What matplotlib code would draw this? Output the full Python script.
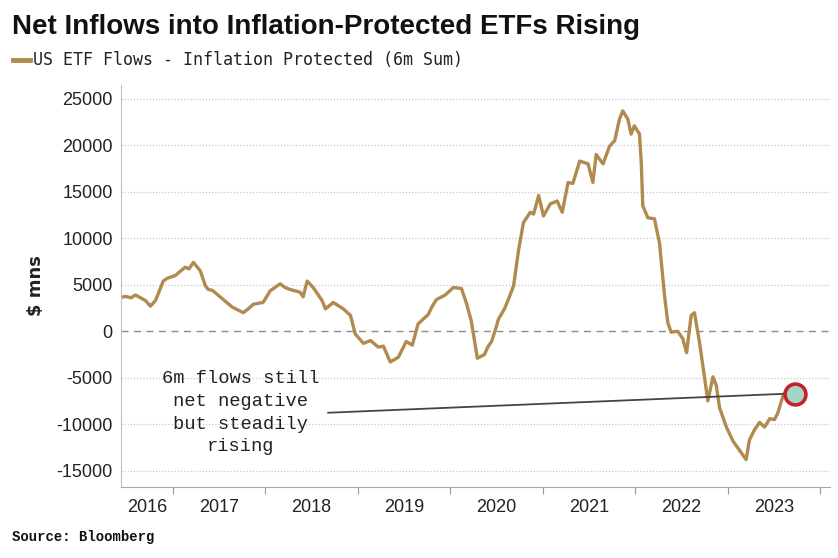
import matplotlib
matplotlib.use("Agg")
import matplotlib.pyplot as plt
import pandas as pd

# 6m sum of US inflation-protected ETF flows, $ mns
dates = [
    "2016-06-20", "2016-06-28", "2016-07-20", "2016-08-06", "2016-08-26", "2016-09-15",
    "2016-10-04", "2016-10-24", "2016-11-24", "2016-12-10", "2017-01-11", "2017-01-28",
    "2017-02-19", "2017-03-05", "2017-03-23", "2017-04-19", "2017-05-09", "2017-05-20",
    "2017-06-06", "2017-07-15", "2017-08-23", "2017-10-06", "2017-10-25", "2017-11-14",
    "2017-12-23", "2018-01-20", "2018-02-28", "2018-03-20", "2018-04-08", "2018-05-18",
    "2018-05-30", "2018-06-15", "2018-07-09", "2018-08-13", "2018-08-26", "2018-09-26",
    "2018-11-05", "2018-12-03", "2018-12-22", "2019-01-23", "2019-02-20", "2019-03-23",
    "2019-04-12", "2019-05-09", "2019-06-10", "2019-07-11", "2019-08-04", "2019-08-27",
    "2019-10-06", "2019-10-20", "2019-11-07", "2019-12-12", "2020-01-13", "2020-02-14",
    "2020-03-05", "2020-03-24", "2020-04-17", "2020-05-15", "2020-05-28", "2020-06-12",
    "2020-07-01", "2020-07-09", "2020-08-02", "2020-08-20", "2020-09-07", "2020-09-27",
    "2020-10-16", "2020-11-12", "2020-11-25", "2020-12-15", "2021-01-03", "2021-01-30",
    "2021-02-26", "2021-03-18", "2021-04-10", "2021-04-29", "2021-05-26", "2021-06-28",
    "2021-07-17", "2021-07-30", "2021-08-26", "2021-09-21", "2021-10-11", "2021-10-30",
    "2021-11-12", "2021-12-02", "2021-12-15", "2021-12-28", "2022-01-17", "2022-01-24",
    "2022-01-30", "2022-02-19", "2022-03-17", "2022-04-06", "2022-04-26", "2022-05-09",
    "2022-05-22", "2022-06-17", "2022-07-07", "2022-07-22", "2022-08-09", "2022-08-22",
    "2022-09-11", "2022-10-01", "2022-10-14", "2022-11-03", "2022-11-16", "2022-11-29",
    "2022-12-26", "2023-01-21", "2023-02-16", "2023-03-14", "2023-03-27", "2023-04-16",
    "2023-05-06", "2023-05-26", "2023-06-15", "2023-07-04", "2023-07-17", "2023-08-06",
    "2023-08-19",
]
flows = [
    3700, 3750, 3600, 3900, 3600, 3300,
    2700, 3300, 5400, 5700, 6000, 6400,
    6900, 6700, 7400, 6500, 4900, 4500,
    4400, 3500, 2600, 2000, 2400, 2900,
    3100, 4350, 5100, 4700, 4500, 4200,
    3700, 5400, 4700, 3300, 2400, 3100,
    2400, 1700, -300, -1300, -1000, -1700,
    -1600, -3300, -2800, -1100, -1500, 800,
    1800, 2600, 3400, 3900, 4700, 4600,
    3000, 1100, -2900, -2500, -1700, -1100,
    500, 1300, 2400, 3600, 4900, 8800,
    11700, 12800, 12600, 14600, 12400, 13700,
    14000, 12800, 16000, 15900, 18300, 18000,
    16000, 19000, 18000, 19900, 20500, 22800,
    23700, 22800, 21200, 22100, 21200, 18200,
    13500, 12200, 12100, 9500, 3800, 900,
    -100, 0, -800, -2300, 1700, 2000,
    -1200, -5000, -7500, -4900, -5800, -8200,
    -10300, -11800, -12800, -13800, -11700, -10600,
    -9800, -10300, -9400, -9500, -8800, -7000,
    -6400,
]
years = [2016, 2017, 2018, 2019, 2020, 2021, 2022, 2023]
y_ticks = [-15000, -10000, -5000, 0, 5000, 10000, 15000, 20000, 25000]

LINE = "#b08a4f"
x = pd.to_datetime(dates)

fig = plt.figure(figsize=(8.38, 5.58), dpi=100)
ax = fig.add_axes([0.1444, 0.128, 0.846, 0.72])

ax.plot(x, flows, color=LINE, lw=2.4, solid_joinstyle="round", zorder=3)

x_left = pd.Timestamp("2016-06-10")
x_right = pd.Timestamp("2024-02-08")
ax.set_xlim(x_left, x_right)
ax.set_ylim(-16700, 26500)

# grid: dotted, zero line dashed
ax.set_yticks(y_ticks)
ax.set_yticklabels([str(v) for v in y_ticks], fontsize=13, family="Liberation Sans", color="#222")
for v in y_ticks:
    if v == 0:
        ax.axhline(v, color="#8a8a8a", lw=1.0, ls=(0, (5, 4)), zorder=1)
    else:
        ax.axhline(v, color="#c8c8c8", lw=0.9, ls=(0, (1, 1.5)), zorder=1)
ax.tick_params(axis="y", length=0, pad=6)

# x axis: ticks at year boundaries, labels centred in each year
ax.set_xticks([pd.Timestamp(f"{y + 1}-01-01") for y in years])
ax.set_xticklabels([])
ax.tick_params(axis="x", which="major", length=5, color="#999", direction="out")
first_end = pd.Timestamp("2017-01-01")
label_pos = [x_left + (first_end - x_left) / 2] + [pd.Timestamp(f"{y}-07-02") for y in years[1:]]
ax.set_xticks(label_pos, minor=True)
ax.set_xticklabels([str(y) for y in years], minor=True, fontsize=13,
                   family="Liberation Sans", color="#222")
ax.tick_params(axis="x", which="minor", length=0, pad=9)

for side in ("top", "right"):
    ax.spines[side].set_visible(False)
ax.spines["left"].set_color("#c0c0c0")
ax.spines["bottom"].set_color("#a8a8a8")

ax.set_ylabel("$ mns", fontsize=13, family="DejaVu Sans", fontweight="bold",
              color="#222", labelpad=8)

# annotation
ax.text(pd.Timestamp("2017-09-25"), -8750,
        "6m flows still\nnet negative\nbut steadily\nrising",
        ha="center", va="center", fontsize=13.5, family="Liberation Mono",
        color="#222", linespacing=1.45, zorder=4)
ax.plot([pd.Timestamp("2018-09-06"), pd.Timestamp("2023-08-15")], [-8760, -6720],
        color="#444", lw=1.3, zorder=4)
ax.plot([pd.Timestamp("2023-09-24")], [-6750], marker="o", ms=15,
        mfc="#9fd6c6", mec="#c8202c", mew=2.6, zorder=5)

# title, legend, source
fig.text(0.014, 0.951, "Net Inflows into Inflation-Protected ETFs Rising",
         fontsize=20, fontweight="bold", family="Liberation Sans", color="#111",
         va="center", ha="left")
fig.lines.append(plt.Line2D([0.015, 0.036], [0.892, 0.892], transform=fig.transFigure,
                            color=LINE, lw=3.5))
fig.text(0.039, 0.892, "US ETF Flows - Inflation Protected (6m Sum)",
         fontsize=12, family="DejaVu Sans Mono", color="#222", va="center", ha="left")
fig.text(0.014, 0.037, "Source: Bloomberg", fontsize=10, fontweight="bold",
         family="Liberation Mono", color="#111", va="center", ha="left")

fig.savefig("out.png", dpi=100)
